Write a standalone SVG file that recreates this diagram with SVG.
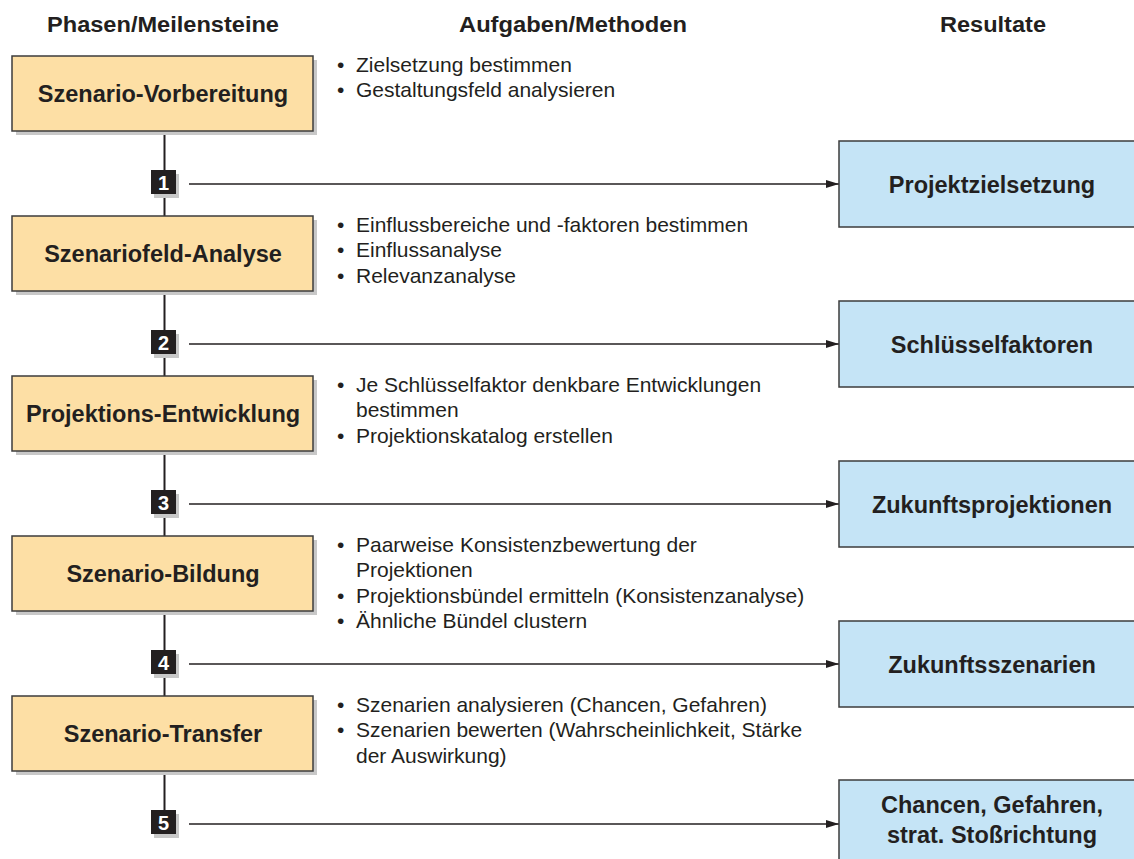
<svg xmlns="http://www.w3.org/2000/svg" width="1134" height="859" viewBox="0 0 1134 859">
  <defs>
    <marker id="arrow" markerWidth="14" markerHeight="10" refX="13" refY="5" orient="auto" markerUnits="userSpaceOnUse">
      <path d="M0,1 L13,5 L0,9 Z" fill="#231f20"/>
    </marker>
    <style>
      .hdr { font-family: "Liberation Sans", Arial, sans-serif; font-weight: bold; font-size: 22px; fill: #231f20; text-anchor: middle; }
      .phase { fill: #fddfa5; stroke: #3c3c3c; stroke-width: 1.5; }
      .shadow { fill: #c8c8c8; }
      .result { fill: #c5e4f6; stroke: #3c3c3c; stroke-width: 1.5; }
      .lbl { font-family: "Liberation Sans", Arial, sans-serif; font-weight: bold; font-size: 23.5px; fill: #231f20; text-anchor: middle; }
      .item { font-family: "Liberation Sans", Arial, sans-serif; font-size: 21px; fill: #231f20; }
      .badge { fill: #231f20; }
      .num { font-family: "Liberation Sans", Arial, sans-serif; font-weight: bold; font-size: 20px; fill: #ffffff; text-anchor: middle; }
      .spine { stroke: #231f20; stroke-width: 2; fill: none; }
      .flow { stroke: #231f20; stroke-width: 1.5; fill: none; }
    </style>
  </defs>

  <rect width="1134" height="859" fill="#ffffff"/>

  <!-- column headings -->
  <g id="headings">
    <text class="hdr" x="163" y="32" textLength="232" lengthAdjust="spacingAndGlyphs">Phasen/Meilensteine</text>
    <text class="hdr" x="573" y="32" textLength="228" lengthAdjust="spacingAndGlyphs">Aufgaben/Methoden</text>
    <text class="hdr" x="993" y="32" textLength="106" lengthAdjust="spacingAndGlyphs">Resultate</text>
  </g>

  <!-- connectors: phase spine and milestone arrows -->
  <g id="connectors">
    <line class="spine" x1="164.5" y1="131" x2="164.5" y2="216"/>
    <line class="spine" x1="164.5" y1="291" x2="164.5" y2="376"/>
    <line class="spine" x1="164.5" y1="451" x2="164.5" y2="536"/>
    <line class="spine" x1="164.5" y1="611" x2="164.5" y2="696"/>
    <line class="spine" x1="164.5" y1="771" x2="164.5" y2="815"/>
    <line class="flow" x1="189" y1="184" x2="839" y2="184" marker-end="url(#arrow)"/>
    <line class="flow" x1="189" y1="344" x2="839" y2="344" marker-end="url(#arrow)"/>
    <line class="flow" x1="189" y1="504" x2="839" y2="504" marker-end="url(#arrow)"/>
    <line class="flow" x1="189" y1="664" x2="839" y2="664" marker-end="url(#arrow)"/>
    <line class="flow" x1="189" y1="824" x2="839" y2="824" marker-end="url(#arrow)"/>
  </g>

  <!-- phases -->
  <g id="phase1">
    <rect class="shadow" x="16" y="60" width="301" height="75"/>
    <rect class="phase" x="12" y="56" width="301" height="75"/>
    <text class="lbl" x="163" y="101.5">Szenario-Vorbereitung</text>
  </g>
  <g id="phase2">
    <rect class="shadow" x="16" y="220" width="301" height="75"/>
    <rect class="phase" x="12" y="216" width="301" height="75"/>
    <text class="lbl" x="163" y="261.5">Szenariofeld-Analyse</text>
  </g>
  <g id="phase3">
    <rect class="shadow" x="16" y="380" width="301" height="75"/>
    <rect class="phase" x="12" y="376" width="301" height="75"/>
    <text class="lbl" x="163" y="421.5">Projektions-Entwicklung</text>
  </g>
  <g id="phase4">
    <rect class="shadow" x="16" y="540" width="301" height="75"/>
    <rect class="phase" x="12" y="536" width="301" height="75"/>
    <text class="lbl" x="163" y="581.5">Szenario-Bildung</text>
  </g>
  <g id="phase5">
    <rect class="shadow" x="16" y="700" width="301" height="75"/>
    <rect class="phase" x="12" y="696" width="301" height="75"/>
    <text class="lbl" x="163" y="741.5">Szenario-Transfer</text>
  </g>

  <!-- milestones -->
  <g id="milestone1">
    <rect class="shadow" x="154" y="174" width="25" height="24"/>
    <rect class="badge" x="151" y="170" width="25" height="24"/>
    <text class="num" x="163.5" y="189.5">1</text>
  </g>
  <g id="milestone2">
    <rect class="shadow" x="154" y="334" width="25" height="24"/>
    <rect class="badge" x="151" y="330" width="25" height="24"/>
    <text class="num" x="163.5" y="349.5">2</text>
  </g>
  <g id="milestone3">
    <rect class="shadow" x="154" y="494" width="25" height="24"/>
    <rect class="badge" x="151" y="490" width="25" height="24"/>
    <text class="num" x="163.5" y="509.5">3</text>
  </g>
  <g id="milestone4">
    <rect class="shadow" x="154" y="654" width="25" height="24"/>
    <rect class="badge" x="151" y="650" width="25" height="24"/>
    <text class="num" x="163.5" y="669.5">4</text>
  </g>
  <g id="milestone5">
    <rect class="shadow" x="154" y="814" width="25" height="24"/>
    <rect class="badge" x="151" y="810" width="25" height="24"/>
    <text class="num" x="163.5" y="829.5">5</text>
  </g>

  <!-- tasks and methods -->
  <g id="tasks1" class="item">
    <text x="337" y="71.5">•</text><text x="356" y="71.5">Zielsetzung bestimmen</text>
    <text x="337" y="97">•</text><text x="356" y="97">Gestaltungsfeld analysieren</text>
  </g>
  <g id="tasks2" class="item">
    <text x="337" y="231.5">•</text><text x="356" y="231.5">Einflussbereiche und -faktoren bestimmen</text>
    <text x="337" y="257">•</text><text x="356" y="257">Einflussanalyse</text>
    <text x="337" y="282.5">•</text><text x="356" y="282.5">Relevanzanalyse</text>
  </g>
  <g id="tasks3" class="item">
    <text x="337" y="391.5">•</text><text x="356" y="391.5">Je Schlüsselfaktor denkbare Entwicklungen</text>
    <text x="356" y="417">bestimmen</text>
    <text x="337" y="442.5">•</text><text x="356" y="442.5">Projektionskatalog erstellen</text>
  </g>
  <g id="tasks4" class="item">
    <text x="337" y="551.5">•</text><text x="356" y="551.5">Paarweise Konsistenzbewertung der</text>
    <text x="356" y="577">Projektionen</text>
    <text x="337" y="602.5">•</text><text x="356" y="602.5">Projektionsbündel ermitteln (Konsistenzanalyse)</text>
    <text x="337" y="628">•</text><text x="356" y="628">Ähnliche Bündel clustern</text>
  </g>
  <g id="tasks5" class="item">
    <text x="337" y="711.5">•</text><text x="356" y="711.5">Szenarien analysieren (Chancen, Gefahren)</text>
    <text x="337" y="737">•</text><text x="356" y="737">Szenarien bewerten (Wahrscheinlichkeit, Stärke</text>
    <text x="356" y="762.5">der Auswirkung)</text>
  </g>

  <!-- results -->
  <g id="result1">
    <rect class="result" x="839" y="141" width="310" height="86"/>
    <text class="lbl" x="992" y="192.5">Projektzielsetzung</text>
  </g>
  <g id="result2">
    <rect class="result" x="839" y="301" width="310" height="86"/>
    <text class="lbl" x="992" y="352.5">Schlüsselfaktoren</text>
  </g>
  <g id="result3">
    <rect class="result" x="839" y="461" width="310" height="86"/>
    <text class="lbl" x="992" y="512.5">Zukunftsprojektionen</text>
  </g>
  <g id="result4">
    <rect class="result" x="839" y="621" width="310" height="86"/>
    <text class="lbl" x="992" y="672.5">Zukunftsszenarien</text>
  </g>
  <g id="result5">
    <rect class="result" x="839" y="780" width="310" height="90"/>
    <text class="lbl" x="992" y="813">Chancen, Gefahren,</text>
    <text class="lbl" x="992" y="842.5">strat. Stoßrichtung</text>
  </g>
</svg>
